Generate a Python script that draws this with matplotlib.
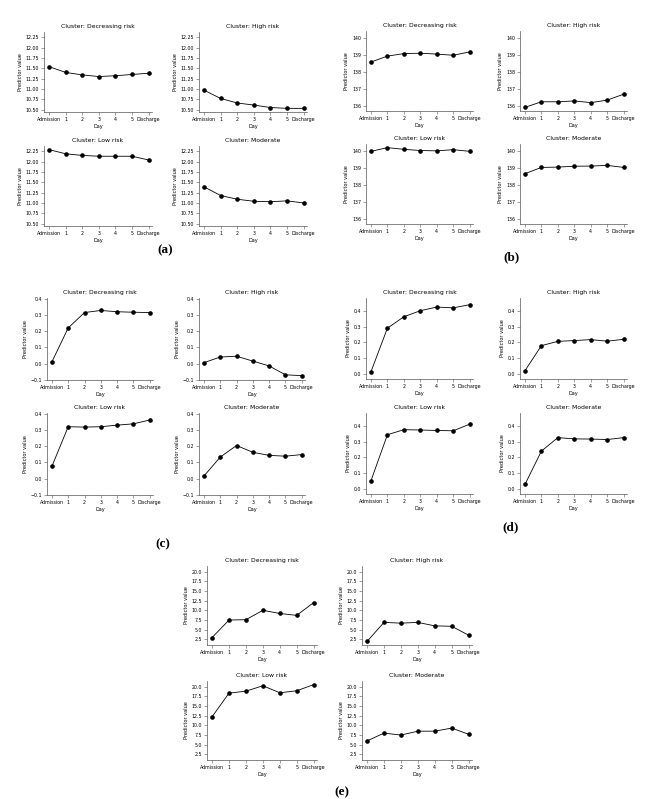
import matplotlib
matplotlib.use("Agg")
import matplotlib.pyplot as plt
from matplotlib.ticker import MultipleLocator

W, H = 666, 799

days = ["Admission", "1", "2", "3", "4", "5", "Discharge"]
clusters = ["Decreasing risk", "High risk", "Low risk", "Moderate"]

# Panel (a)
a_decreasing = [11.54, 11.40, 11.34, 11.30, 11.32, 11.35, 11.38]
a_high = [10.97, 10.77, 10.66, 10.61, 10.55, 10.53, 10.53]
a_low = [12.29, 12.19, 12.15, 12.13, 12.13, 12.13, 12.04]
a_moderate = [11.39, 11.18, 11.09, 11.04, 11.03, 11.05, 11.00]

# Panel (b)
b_decreasing = [138.60, 138.95, 139.10, 139.12, 139.07, 139.00, 139.20]
b_high = [135.92, 136.25, 136.25, 136.30, 136.20, 136.35, 136.70]
b_low = [140.00, 140.22, 140.12, 140.05, 140.03, 140.10, 140.00]
b_moderate = [138.68, 139.05, 139.07, 139.12, 139.13, 139.17, 139.05]

# Panel (c)
c_decreasing = [0.010, 0.220, 0.315, 0.328, 0.320, 0.317, 0.315]
c_high = [0.005, 0.040, 0.045, 0.015, -0.015, -0.070, -0.075]
c_low = [0.075, 0.320, 0.318, 0.320, 0.330, 0.338, 0.362]
c_moderate = [0.015, 0.132, 0.204, 0.162, 0.143, 0.138, 0.148]

# Panel (d)
d_decreasing = [0.015, 0.290, 0.362, 0.400, 0.423, 0.418, 0.438]
d_high = [0.022, 0.180, 0.207, 0.212, 0.218, 0.208, 0.220]
d_low = [0.053, 0.343, 0.375, 0.373, 0.370, 0.368, 0.410]
d_moderate = [0.030, 0.240, 0.325, 0.317, 0.316, 0.313, 0.325]

# Panel (e)
e_decreasing = [3.0, 7.5, 7.6, 10.0, 9.2, 8.7, 12.0]
e_high = [2.0, 6.9, 6.7, 6.9, 6.0, 5.9, 3.6]
e_low = [12.2, 18.3, 18.8, 20.2, 18.4, 18.9, 20.5]
e_moderate = [6.0, 8.0, 7.5, 8.5, 8.5, 9.3, 7.7]

panels = [
    dict(label="(a)", data=[a_decreasing, a_high, a_low, a_moderate],
         lx=44, rx=199, w=108, ty=32, by=146, h=80, cap=(165, 250),
         ylim=None, step=0.25),
    dict(label="(b)", data=[b_decreasing, b_high, b_low, b_moderate],
         lx=366, rx=520, w=107, ty=31, by=144, h=80, cap=(511, 257),
         ylim=None, step=1),
    dict(label="(c)", data=[c_decreasing, c_high, c_low, c_moderate],
         lx=47, rx=199, w=106, ty=298, by=413, h=82, cap=(163, 544),
         ylim=(-0.102, 0.405), step=0.1),
    dict(label="(d)", data=[d_decreasing, d_high, d_low, d_moderate],
         lx=366, rx=520, w=107, ty=298, by=413, h=81, cap=(511, 527),
         ylim=(-0.03, 0.48), step=0.1),
    dict(label="(e)", data=[e_decreasing, e_high, e_low, e_moderate],
         lx=207, rx=362, w=110, ty=566, by=681, h=79, cap=(342, 792),
         ylim=None, step=2.5),
]

fig = plt.figure(figsize=(W / 100, H / 100), dpi=100)
fig.patch.set_facecolor("white")

def rect(x0, y0, w, h):
    return [x0 / W, 1 - (y0 + h) / H, w / W, h / H]

for p in panels:
    allv = [v for s in p["data"] for v in s]
    lo, hi = min(allv), max(allv)
    m = (hi - lo) * 0.05
    ylim = p["ylim"] if p["ylim"] else (lo - m, hi + m)
    positions = [(p["lx"], p["ty"]), (p["rx"], p["ty"]),
                 (p["lx"], p["by"]), (p["rx"], p["by"])]
    for (x0, y0), name, series in zip(positions, clusters, p["data"]):
        ax = fig.add_axes(rect(x0, y0, p["w"], p["h"]))
        xs = list(range(len(days)))
        ax.plot(xs, series, color="black", lw=0.6, marker="o", ms=2.3,
                mfc="black", mec="black")
        ax.set_xticks(xs)
        ax.set_xticklabels(days)
        ax.set_xlim(-0.3, 6.2)
        ax.set_ylim(*ylim)
        ax.yaxis.set_major_locator(MultipleLocator(p["step"]))
        for s in ["top", "right"]:
            ax.spines[s].set_visible(False)
        for s in ["left", "bottom"]:
            ax.spines[s].set_linewidth(0.5)
            ax.spines[s].set_color("#555555")
        ax.tick_params(labelsize=3.4, width=0.4, length=2, pad=1.5,
                       color="#555555")
        ax.set_title(f"Cluster: {name}", fontsize=4.4, pad=3)
        ax.set_xlabel("Day", fontsize=3.6, labelpad=1.5)
        ax.set_ylabel("Predictor value", fontsize=3.6, labelpad=2)
    cx, cy = p["cap"]
    fig.text(cx / W, 1 - cy / H, p["label"], ha="center", va="center",
             fontsize=9.5, family="Liberation Serif", fontweight="bold")

fig.savefig("out.png", dpi=100, facecolor="white")
